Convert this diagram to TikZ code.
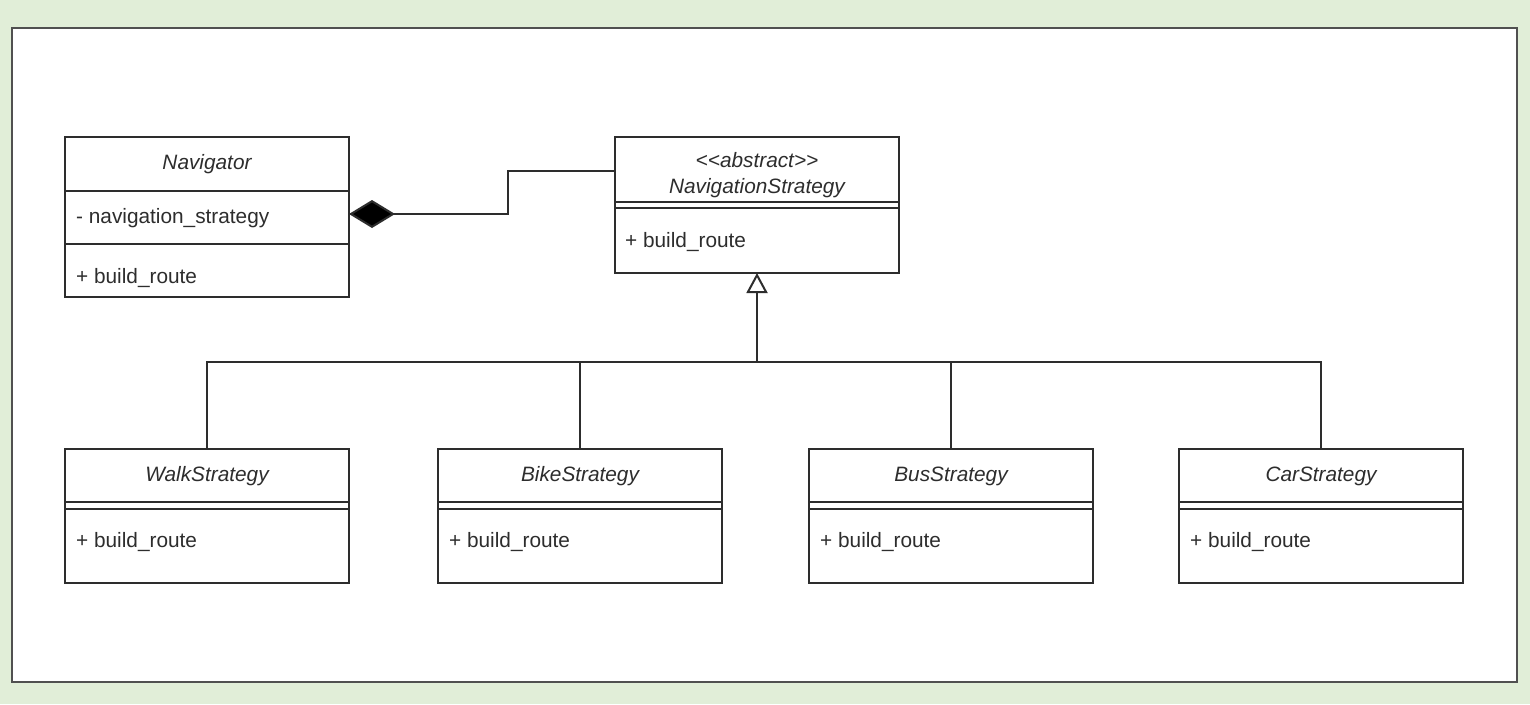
\documentclass[tikz,border=0pt]{standalone}
\usepackage{fontspec}
\setmainfont{Liberation Sans}
\usetikzlibrary{arrows.meta}
\definecolor{bggreen}{RGB}{225,238,216}
\definecolor{ink}{RGB}{45,45,45}
\definecolor{panelline}{RGB}{80,80,80}
\begin{document}
\begin{tikzpicture}[x=1pt,y=-1pt,
  umlbox/.style={draw=ink, line width=2pt, rectangle, minimum width=284pt, inner sep=0pt, outer sep=0pt, anchor=north west},
  sepline/.style={draw=ink, line width=2pt},
  title/.style={font=\fontsize{20.8}{24}\selectfont\itshape, text=ink, anchor=base, inner sep=0pt},
  member/.style={font=\fontsize{20.8}{24}\selectfont, text=ink, anchor=base west, inner sep=0pt},
  conn/.style={draw=ink, line width=2pt},
]
\useasboundingbox (0,0) rectangle (1530,704);
\fill[bggreen] (0,0) rectangle (1530,704);
\draw[fill=white, draw=panelline, line width=1.6pt] (12,28) rectangle (1517,682);

% Navigator
\node[umlbox, minimum height=160pt] (nav) at (65,137) {};
\draw[sepline] ([yshift=-54pt]nav.north west) -- ([yshift=-54pt]nav.north east);
\draw[sepline] ([yshift=-107pt]nav.north west) -- ([yshift=-107pt]nav.north east);
\node[title] (navt) at ([yshift=-32pt]nav.north) {Navigator};
\node[member] (nava) at ([xshift=11pt,yshift=-86pt]nav.north west) {- navigation\_strategy};
\node[member] (navo) at ([xshift=11pt,yshift=-146pt]nav.north west) {+ build\_route};

% NavigationStrategy
\node[umlbox, minimum height=136pt] (ns) at (615,137) {};
\draw[sepline] ([yshift=-65pt]ns.north west) -- ([yshift=-65pt]ns.north east);
\draw[sepline] ([yshift=-71pt]ns.north west) -- ([yshift=-71pt]ns.north east);
\node[title] (nss) at ([yshift=-30pt]ns.north) {{<}{<}abstract{>}{>}};
\node[title] (nst) at ([yshift=-56pt]ns.north) {NavigationStrategy};
\node[member] (nso) at ([xshift=10pt,yshift=-110pt]ns.north west) {+ build\_route};

% Concrete strategies
\foreach \n/\x/\t in {walk/65/WalkStrategy, bike/438/BikeStrategy, bus/809/BusStrategy, car/1179/CarStrategy}{
  \node[umlbox, minimum height=134pt] (\n) at (\x,449) {};
  \draw[sepline] ([yshift=-53pt]\n.north west) -- ([yshift=-53pt]\n.north east);
  \draw[sepline] ([yshift=-60pt]\n.north west) -- ([yshift=-60pt]\n.north east);
  \node[title] (\n t) at ([yshift=-32pt]\n.north) {\t};
  \node[member] (\n o) at ([xshift=11pt,yshift=-98pt]\n.north west) {+ build\_route};
}

% Composition
\draw[conn, {Diamond[length=46pt,width=28pt,fill=black]}-] ([yshift=3pt]nav.east) -- ++(159,0) |- ([yshift=34pt]ns.west);

% Inheritance
\coordinate (hub) at (757,362);
\draw[conn] (walk.north) |- (hub);
\draw[conn] (bike.north) |- (hub);
\draw[conn] (bus.north) |- (hub);
\draw[conn] (car.north) |- (hub);
\draw[conn, -{Triangle[open, length=20pt, width=21pt, fill=white]}] (hub) -- (ns.south);
\end{tikzpicture}
\end{document}
